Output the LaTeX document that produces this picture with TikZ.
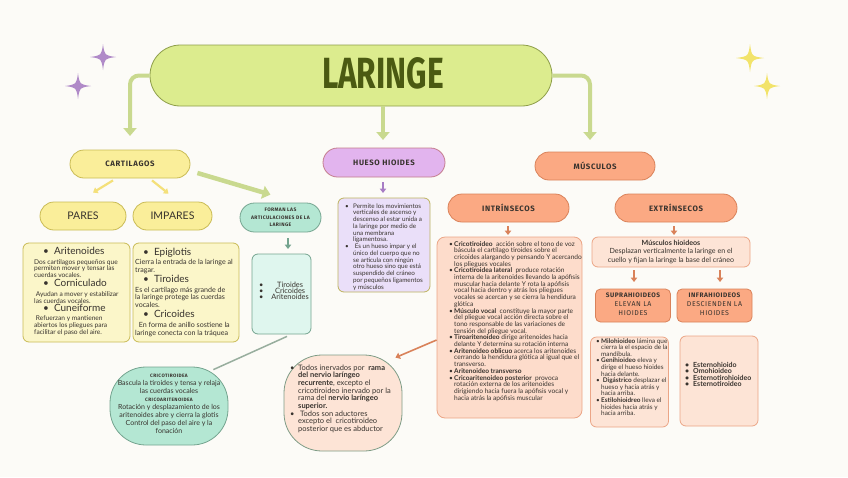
\documentclass[tikz,border=0pt]{standalone}
\usepackage{fontspec}
\setmainfont{Lato}
\newfontfamily\hfont{Fira Sans}[LetterSpace=8]
\newfontfamily\tfont{Fira Sans}
\usetikzlibrary{arrows.meta,shapes.misc,calc}
\definecolor{bg}{HTML}{FCFBF7}
\definecolor{ink}{HTML}{38332E}
\definecolor{limeF}{HTML}{DCEC8E}
\definecolor{limeD}{HTML}{8E9E4A}
\definecolor{limeA}{HTML}{C9D98F}
\definecolor{olive}{HTML}{4B5A12}
\definecolor{yelF}{HTML}{FAEE9A}
\definecolor{yelD}{HTML}{C9BB55}
\definecolor{yelL}{HTML}{FBF6C9}
\definecolor{yelA}{HTML}{F4E07A}
\definecolor{mintF}{HTML}{B4E7D3}
\definecolor{mintL}{HTML}{DFF6EE}
\definecolor{mintD}{HTML}{74A48F}
\definecolor{lavF}{HTML}{E2B4EE}
\definecolor{lavL}{HTML}{EADFF9}
\definecolor{lavD}{HTML}{C47C8C}
\definecolor{lavA}{HTML}{A77CC4}
\definecolor{oliveD}{HTML}{BDB35E}
\definecolor{salF}{HTML}{FBA983}
\definecolor{salD}{HTML}{D9825A}
\definecolor{salL}{HTML}{FDDCCB}
\definecolor{salL2}{HTML}{FDE4D6}
\definecolor{salB}{HTML}{EBA586}
\definecolor{grayG}{HTML}{7E9C86}
\definecolor{grayL}{HTML}{98AE9E}
\definecolor{starP}{HTML}{B08AC8}
\definecolor{starY}{HTML}{F2E36A}
\newcommand\hdr{\hfont\bfseries\fontsize{7.8}{9}\selectfont}
\newcommand\itm[2]{\hangindent=#1\hangafter=1\noindent\makebox[#1][l]{\textbullet}{\let\\\newline #2}\par}
\tikzset{
  pill/.style={rounded rectangle, draw, line width=0.8pt, inner sep=0pt, align=center, text=ink},
  card/.style={rectangle, rounded corners=6pt, draw, line width=0.8pt, inner sep=0pt},
  txt/.style={inner sep=0pt, align=flush left, text=ink},
  garrow/.style={draw=limeA, line width=4pt, -{Triangle[width=13pt,length=8pt]}},
  sarrow/.style={line width=1.6pt, -{Triangle[width=6.5pt,length=4.5pt]}},
  sparkle/.pic={\fill (0,-1) .. controls (0.12,-0.12) .. (1,0) .. controls (0.12,0.12) .. (0,1) .. controls (-0.12,0.12) .. (-1,0) .. controls (-0.12,-0.12) .. (0,-1) -- cycle;}
}
\begin{document}
\begin{tikzpicture}[x=1pt,y=-1pt]
\fill[bg] (0,0) rectangle (848,477);
\useasboundingbox (0,0) rectangle (848,477);

% sparkles
\pic[starP, scale=13] at (103,57) {sparkle};
\pic[starP, scale=13] at (78,86) {sparkle};
\pic[starY, scale=14] at (750,58) {sparkle};
\pic[starY, scale=13] at (767,86) {sparkle};

% title
\node[pill, fill=limeF, draw=limeD, minimum width=402, minimum height=61] (title) at (351,75.5) {};
\node[text=olive, inner sep=0pt] (ttl) at (383,73) {\tfont\bfseries\resizebox{122pt}{31pt}{LARINGE}};

% level 1
\node[pill, fill=yelF, draw=yelD, minimum width=120, minimum height=28] (cart) at (130,164) {\hdr CARTILAGOS};
\node[pill, fill=lavF, draw=lavD, minimum width=122, minimum height=29] (hueso) at (384,162.5) {\hdr HUESO HIOIDES};
\node[pill, fill=salF, draw=salD, minimum width=120, minimum height=28] (musc) at (595,166) {\hdr MÚSCULOS};

\coordinate (t1) at (130,136);
\coordinate (t2) at (383,140);
\coordinate (t3) at (590,140);
\draw[garrow, rounded corners=9pt] (title.west) -| (t1);
\draw[garrow] (t2 |- title.south) -- (t2);
\draw[garrow, rounded corners=9pt] (title.east) -| (t3);

% cartilagos branch
\node[pill, fill=yelF, draw=yelD, minimum width=86, minimum height=28] (pares) at (83,216) {\fontsize{10.5}{12}\selectfont PARES};
\node[pill, fill=yelF, draw=yelD, minimum width=79, minimum height=28] (impares) at (172.5,216) {\fontsize{10.5}{12}\selectfont IMPARES};
\node[pill, fill=mintF, draw=mintD, minimum width=81, minimum height=29, font=\hfont\bfseries\fontsize{5}{7.5}\selectfont] (forman) at (280.5,217.5)
  {FORMAN LAS\\ARTICULACIONES DE LA\\LARINGE};
\draw[sarrow, draw=yelA, line width=2.2pt] ($(cart.south)+(-17,2)$) -- ($(pares.north)+(10,-9)$);
\draw[sarrow, draw=yelA, line width=2.2pt] ($(cart.south)+(22,2)$) -- ($(impares.north)+(-4,-8)$);
\draw[garrow, line width=4.5pt] ($(cart.east)+(7,9)$) -- ($(forman.north west)+(16,-8)$);

\node[card, fill=yelL, draw=yelD, minimum width=107, minimum height=99] (paresBox) at (76.5,292.5) {};
\node[card, fill=yelL, draw=yelD, minimum width=106, minimum height=99] (impBox) at (186,292.5) {};

\node[txt, text width=110pt, anchor=base west] (paresTxt) at (34,254) {%
{\fontsize{10}{9}\selectfont\hspace*{9pt}\textbullet\hspace{5pt}Aritenoides\par}\vspace{3.1pt}
{\fontsize{6.6}{6.9}\selectfont Dos cartilagos pequeños que\newline permiten mover y tensar las\newline cuerdas vocales.\par}
{\fontsize{10}{9}\selectfont\hspace*{9pt}\textbullet\hspace{5pt}Corniculado\par}\vspace{3.1pt}
{\fontsize{6.6}{6.9}\selectfont\ Ayudan a mover y estabilizar\newline las cuerdas vocales.\par}
{\fontsize{10}{8}\selectfont\hspace*{9pt}\textbullet\hspace{5pt}Cuneiforme\par}\vspace{2.1pt}
{\fontsize{6.6}{6.9}\selectfont\ Refuerzan y mantienen\newline abiertos los pliegues para\newline facilitar el paso del aire.\par}};

\node[txt, text width=115pt, anchor=base west] (impTxt) at (135,255) {%
{\fontsize{10}{9}\selectfont\hspace*{8pt}\textbullet\hspace{5pt}Epiglotis\par}\vspace{1.6pt}
{\fontsize{7.1}{7.7}\selectfont Cierra la entrada de la laringe al\newline tragar.\par}
{\fontsize{10}{10}\selectfont\hspace*{8pt}\textbullet\hspace{5pt}Tiroides\par}\vspace{2.3pt}
{\fontsize{7.1}{7.7}\selectfont Es el cartílago más grande de\newline la laringe protege las cuerdas\newline vocales.\par}
{\fontsize{10}{10}\selectfont\hspace*{8pt}\textbullet\hspace{5pt}Cricoides\par}\vspace{2.3pt}
{\fontsize{7.1}{8}\selectfont\ \ En forma de anillo sostiene la\newline laringe conecta con la tráquea\par}};

\node[card, fill=mintL, draw=mintD, minimum width=59, minimum height=80] (formBox) at (281.5,294) {};
\node[inner sep=0pt, text=ink] (formTxt) at (284,292) {\fontsize{7.4}{8}\selectfont
  \begin{tabular}{@{}l@{\hspace{8pt}}c@{}}\textbullet & Tiroides\\[-1.8pt] \textbullet & Cricoides\\[-1.8pt] \textbullet & Aritenoides\end{tabular}};
\draw[sarrow, draw=mintD] (288,238) -- (288,249);

\node[rectangle, rounded corners=36pt, draw=mintD, fill=mintF, line width=0.8pt, minimum width=118, minimum height=78] (crico) at (169,406) {};
\node[txt, text width=118pt, align=flush center, anchor=base] (cricoTxt) at (169,377) {\fontsize{7}{8}\selectfont
  {\hfont\bfseries\fontsize{4.8}{8}\selectfont CRICOTIROIDEA}\\Bascula la tiroides y tensa y relaja\\las cuerdas vocales\\
  {\hfont\bfseries\fontsize{4.8}{8}\selectfont CRICOARITENOIDEA}\\Rotación y desplazamiento de los\\aritenoides abre y cierra la glotis\\Control del paso del aire y la\\fonación\par};
\draw[line width=1.5pt, draw=grayL] ($(formBox.south)+(5.5,2)$) -- ($(crico.north east)+(-15,3)$);

% hueso branch
\draw[sarrow, draw=lavA] (383,182) -- (383,193);
\node[card, fill=lavL, draw=oliveD, minimum width=92, minimum height=94] (huesoBox) at (384,245) {};
\node[txt, text width=90pt, anchor=base west] (huesoTxt) at (345,208) {\fontsize{6.3}{6.75}\selectfont
\itm{8pt}{Permite los movimientos\\verticales de ascenso y\\descenso al estar unida a\\la laringe por medio de\\una membrana\\ligamentosa.}%
\itm{8pt}{\ Es un hueso impar y el\\único del cuerpo que no\\se articula con ningún\\otro hueso sino que está\\suspendido del cráneo\\por pequeños ligamentos\\y músculos}};

% musculos branch
\node[pill, fill=salF, draw=salD, minimum width=121, minimum height=28] (intr) at (508.5,208) {\hdr INTRÍNSECOS};
\node[pill, fill=salF, draw=salD, minimum width=122, minimum height=28] (extr) at (676,208) {\hdr EXTRÍNSECOS};
\draw[sarrow, draw=salD] (508,226) -- (508,235);
\draw[sarrow, draw=salD] (674,226) -- (674,235);

\node[card, fill=salL, draw=salB, minimum width=145, minimum height=181, rounded corners=8pt] (intrBox) at (509.5,327.5) {};
\node[txt, text width=140pt, anchor=base west] (intrTxt) at (449,246) {\fontsize{6.6}{6.7}\selectfont
\itm{5pt}{\textbf{Cricotiroideo}\ \ acción sobre el tono de voz\\báscula el cartílago tiroides sobre el\\cricoides alargando y pensando Y acercando\\los pliegues vocales}%
\itm{5pt}{\textbf{Cricotiroidea lateral}\ \ produce rotación\\interna de la aritenoides llevando la apófisis\\muscular hacia delante Y rota la apófisis\\vocal hacia dentro y atrás los pliegues\\vocales se acercan y se cierra la hendidura\\glótica}%
\itm{5pt}{\textbf{Músculo vocal}\ \ constituye la mayor parte\\del pliegue vocal acción directa sobre el\\tono responsable de las variaciones de\\tensión del pliegue vocal.}%
\itm{5pt}{\textbf{Tiroaritenoideo} dirige aritenoides hacia\\delante Y determina su rotación interna}%
\itm{5pt}{\textbf{Aritenoideo oblicuo} acerca los aritenoides\\cerrando la hendidura glótica al igual que el\\transverso.}%
\itm{5pt}{\textbf{Aritenoideo transverso}}%
\itm{5pt}{\textbf{Cricoaritenoideo posterior}\ \ provoca\\rotación externa de los aritenoides\\dirigiendo hacia fuera la apófisis vocal y\\hacia atrás la apófisis muscular}};

\node[rectangle, rounded corners=38pt, draw=grayG, fill=salL2, line width=0.8pt, minimum width=118, minimum height=96] (todos) at (343,403) {};
\node[txt, text width=120pt, anchor=base west] (todosTxt) at (290,370) {\fontsize{7.5}{7.7}\selectfont
\itm{8pt}{Todos inervados por\ \ \textbf{rama}\\\textbf{del nervio laríngeo}\\\textbf{recurrente}, excepto el\\cricotiroideo inervado por la\\rama del \textbf{nervio laríngeo}\\\textbf{superior.}}%
\itm{8pt}{\ Todos son aductores\\excepto el\ \ cricotiroideo\\posterior que es abductor}};
\draw[sarrow, draw=salD] ($(intrBox.west)+(0,12.5)$) -- ($(todos.north east)+(-7,3)$);

\node[card, fill=salL2, draw=salB, minimum width=158, minimum height=30] (hio) at (671,252) {};
\node[txt, text width=158pt, align=flush center, anchor=base] (hioTxt) at (671,245) {\fontsize{7.1}{8.5}\selectfont
  \textbf{Músculos hioideos}\\Desplazan verticalmente la laringe en el\\cuello y fijan la laringe la base del cráneo\par};
\draw[sarrow, draw=salD] (634,270) -- (634,282);
\draw[sarrow, draw=salD] (720,270) -- (720,282);

\node[card, fill=salF, draw=salD, rounded corners=5pt, minimum width=75, minimum height=33] (supra) at (633,305.5) {};
\node[txt, text width=75pt, align=flush center, anchor=base] (supraTxt0) at (633,297)
  {{\hdr\fontsize{6.5}{7}\selectfont SUPRAHIOIDEOS\par}{\hfont\fontsize{7}{9.3}\selectfont ELEVAN LA\\HIOIDES\par}};
\node[card, fill=salF, draw=salD, rounded corners=5pt, minimum width=75, minimum height=33] (infra) at (714.5,305.5) {};
\node[txt, text width=75pt, align=flush center, anchor=base] (infraTxt0) at (714.5,297)
  {{\hdr\fontsize{6.5}{7}\selectfont INFRAHIOIDEOS\par}{\hfont\fontsize{7}{9.3}\selectfont DESCIENDEN LA\\HIOIDES\par}};

\node[card, fill=salL2, draw=salB, minimum width=78, minimum height=90] (supraBox) at (629.5,382) {};
\node[txt, text width=80pt, anchor=base west] (supraTxt) at (596,343) {\fontsize{6.4}{6.6}\selectfont
\itm{5pt}{\textbf{Milohioideo} lámina que\\cierra la el espacio de la\\mandíbula.}%
\itm{5pt}{\textbf{Genihioideo} eleva y\\dirige el hueso hioides\\hacia delante.}%
\itm{5pt}{\ \textbf{Digástrico} desplazar el\\hueso y hacia atrás y\\hacia arriba.}%
\itm{5pt}{\textbf{Estilohioidreo} lleva el\\hioides hacia atrás y\\hacia arriba.}};

\node[card, fill=salL2, draw=salB, minimum width=78, minimum height=90] (infraBox) at (719,381) {};
\node[txt, text width=80pt, anchor=base west] (infraTxt) at (685,367) {\fontsize{7}{6.6}\selectfont\bfseries
\itm{8pt}{Esternohioido}%
\itm{8pt}{Omohioideo}%
\itm{8pt}{Esternotirohioideo}%
\itm{8pt}{Esternotiroideo}};
\end{tikzpicture}
\end{document}
